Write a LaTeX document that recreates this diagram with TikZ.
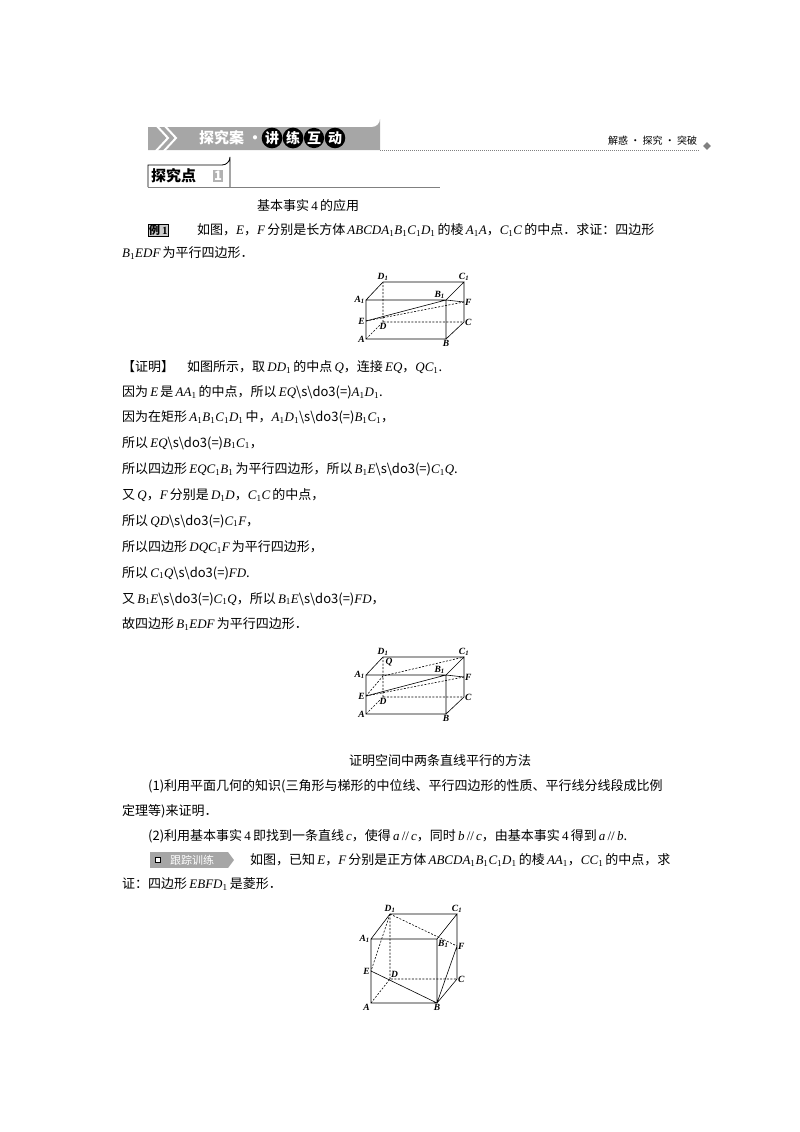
\documentclass[tikz,border=0pt]{standalone}
\usepackage{fontspec}
\usetikzlibrary{shapes.geometric}
\setmainfont{Noto Sans CJK SC}
\newfontfamily\lat{Liberation Serif}
\newcommand\I[1]{{\lat\itshape #1}}
\newcommand\lo[1]{\textsubscript{\lat #1}}
\newcommand\eqs{\textbackslash s\textbackslash do3(=)}
\begin{document}
\begin{tikzpicture}[x=1pt,y=-1pt,
  txt/.style={anchor=west,inner sep=0pt,font=\fontsize{13}{15}\selectfont},
  lab/.style={inner sep=1pt,font=\lat\itshape\bfseries\fontsize{9.5}{10}\selectfont},
  edge/.style={line width=0.6pt},
  hid/.style={line width=0.6pt,dashed,dash pattern=on 2pt off 1.5pt}]
\useasboundingbox (0,0) rectangle (800,1132);
% header
\fill[gray!70] (148,127) -- (372,127) arc[start angle=90,end angle=0,radius=8] -- (380,150) -- (148,150) -- cycle;
\draw[white,line width=2pt] (155,124) -- (168,138) -- (155,152) (163,124) -- (176,138) -- (163,152);
\node[txt,white,font=\bfseries\fontsize{15}{16}\selectfont] (h1) at (199,138) {探究案 ·};
\foreach \c [count=\i] in {讲,练,互,动}{
  \node[circle,fill=black,text=white,inner sep=0.5pt,font=\bfseries\fontsize{14}{15}\selectfont] (hc\i) at (251+\i*21,138) {\c};}
\draw[gray,densely dotted,line width=1pt] (380,150) -- (700,150);
\node[txt,font=\fontsize{10}{11}\selectfont] (h2) at (608,141) {解惑 · 探究 · 突破};
\node[diamond,fill=gray,inner sep=2pt] (hd) at (707,146) {};
% tanjiudian
\draw[line width=0.8pt] (148,187) -- (148,165) -- (222,165) arc[start angle=90,end angle=0,radius=8] -- (230,187);
\draw[gray,line width=0.8pt] (148,187) -- (440,187);
\node[txt,font=\bfseries\fontsize{15}{16}\selectfont] (t1) at (151,176) {探究点};
\node[fill=gray!60,text=white,inner sep=1.5pt,font=\bfseries\itshape\fontsize{13}{14}\selectfont] (t2) at (218,176) {1};
% text
\node[txt] (l0) at (257,206) {基本事实\,{\lat 4}\,的应用};
\node[draw,fill=gray!40,inner sep=1pt,font=\bfseries\fontsize{11}{12}\selectfont,anchor=west] (ex) at (148,230) {例\,{\lat 1}};
\node[txt] (l1) at (197,230) {如图，\I{E}，\I{F}\,分别是长方体\,\I{ABCDA}\lo{1}\I{B}\lo{1}\I{C}\lo{1}\I{D}\lo{1}\,的棱\,\I{A}\lo{1}\I{A}，\I{C}\lo{1}\I{C}\,的中点．求证：四边形};
\node[txt] (l2) at (122,253) {\I{B}\lo{1}\I{EDF}\,为平行四边形．};
\node[txt] (p0) at (122,367) {【证明】\quad 如图所示，取\,\I{DD}\lo{1}\,的中点\,\I{Q}，连接\,\I{EQ}，\I{QC}\lo{1}.};
\node[txt] (p1) at (122,392) {因为\,\I{E}\,是\,\I{AA}\lo{1}\,的中点，所以\,\I{EQ}\eqs\I{A}\lo{1}\I{D}\lo{1}.};
\node[txt] (p2) at (122,417) {因为在矩形\,\I{A}\lo{1}\I{B}\lo{1}\I{C}\lo{1}\I{D}\lo{1}\,中，\I{A}\lo{1}\I{D}\lo{1}\eqs\I{B}\lo{1}\I{C}\lo{1}，};
\node[txt] (p3) at (122,443) {所以\,\I{EQ}\eqs\I{B}\lo{1}\I{C}\lo{1}，};
\node[txt] (p4) at (122,469) {所以四边形\,\I{EQC}\lo{1}\I{B}\lo{1}\,为平行四边形，所以\,\I{B}\lo{1}\I{E}\eqs\I{C}\lo{1}\I{Q}.};
\node[txt] (p5) at (122,495) {又\,\I{Q}，\I{F}\,分别是\,\I{D}\lo{1}\I{D}，\I{C}\lo{1}\I{C}\,的中点，};
\node[txt] (p6) at (122,521) {所以\,\I{QD}\eqs\I{C}\lo{1}\I{F}，};
\node[txt] (p7) at (122,547) {所以四边形\,\I{DQC}\lo{1}\I{F}\,为平行四边形，};
\node[txt] (p8) at (122,573) {所以\,\I{C}\lo{1}\I{Q}\eqs\I{FD}.};
\node[txt] (p9) at (122,599) {又\,\I{B}\lo{1}\I{E}\eqs\I{C}\lo{1}\I{Q}，所以\,\I{B}\lo{1}\I{E}\eqs\I{FD}，};
\node[txt] (p10) at (122,624) {故四边形\,\I{B}\lo{1}\I{EDF}\,为平行四边形．};
\node[txt,anchor=center] (m0) at (440,761) {证明空间中两条直线平行的方法};
\node[txt] (m1) at (148,786) {(1)利用平面几何的知识(三角形与梯形的中位线、平行四边形的性质、平行线分线段成比例};
\node[txt] (m2) at (122,811) {定理等)来证明．};
\node[txt] (m3) at (148,836) {(2)利用基本事实\,{\lat 4}\,即找到一条直线\,\I{c}，使得\,\I{a}\,{\lat //}\,\I{c}，同时\,\I{b}\,{\lat //}\,\I{c}，由基本事实\,{\lat 4}\,得到\,\I{a}\,{\lat //}\,\I{b}.};
\fill[gray!70] (150,852) rectangle (228,868);
\fill[gray!70] (228,852) -- (234,860) -- (228,868) -- cycle;
\node[draw,fill=white,inner sep=2.5pt] (ic) at (158,860) {};
\node[txt,white,font=\fontsize{11}{12}\selectfont] (g0) at (170,860) {跟踪训练};
\node[txt] (g1) at (250,860) {如图，已知\,\I{E}，\I{F}\,分别是正方体\,\I{ABCDA}\lo{1}\I{B}\lo{1}\I{C}\lo{1}\I{D}\lo{1}\,的棱\,\I{AA}\lo{1}，\I{CC}\lo{1}\,的中点，求};
\node[txt] (g2) at (122,884) {证：四边形\,\I{EBFD}\lo{1}\,是菱形．};
% figure 1
\begin{scope}
\coordinate (A) at (366,339); \coordinate (B) at (446,339);
\coordinate (A1) at (366,300); \coordinate (B1) at (446,300);
\coordinate (D) at (383,322); \coordinate (C) at (464,322);
\coordinate (D1) at (383,282); \coordinate (C1) at (464,282);
\coordinate (E) at (366,321); \coordinate (F) at (464,302);
\draw[edge] (A)--(B)--(B1)--(A1)--cycle (A1)--(D1)--(C1)--(B1) (C1)--(C)--(B) (E)--(B1)--(F);
\draw[hid] (A)--(D)--(C) (D)--(D1) (E)--(F);
\node[lab,left] at (A) {A}; \node[lab,below] at (B) {B};
\node[lab,left] at (A1) {A\lo{1}}; \node[lab,above left] at (B1) {B\lo{1}};
\node[lab,below] at (D) {D}; \node[lab,right] at (C) {C};
\node[lab,above] at (D1) {D\lo{1}}; \node[lab,above] at (C1) {C\lo{1}};
\node[lab,left] at (E) {E}; \node[lab,right] at (F) {F};
\end{scope}
% figure 2
\begin{scope}
\coordinate (A) at (366,714); \coordinate (B) at (446,714);
\coordinate (A1) at (366,675); \coordinate (B1) at (446,675);
\coordinate (D) at (383,697); \coordinate (C) at (464,697);
\coordinate (D1) at (383,657); \coordinate (C1) at (464,657);
\coordinate (E) at (366,696); \coordinate (F) at (464,677);
\coordinate (Q) at (383,676);
\draw[edge] (A)--(B)--(B1)--(A1)--cycle (A1)--(D1)--(C1)--(B1) (C1)--(C)--(B) (E)--(B1)--(F);
\draw[hid] (A)--(D)--(C) (D)--(D1) (E)--(F) (E)--(Q)--(C1);
\node[lab,left] at (A) {A}; \node[lab,below] at (B) {B};
\node[lab,left] at (A1) {A\lo{1}}; \node[lab,above left] at (B1) {B\lo{1}};
\node[lab,below] at (D) {D}; \node[lab,right] at (C) {C};
\node[lab,above] at (D1) {D\lo{1}}; \node[lab,above] at (C1) {C\lo{1}};
\node[lab,left] at (E) {E}; \node[lab,right] at (F) {F};
\node[lab] at (389,662) {Q};
\end{scope}
% figure 3
\begin{scope}
\coordinate (A) at (371,1003); \coordinate (B) at (437,1003);
\coordinate (A1) at (371,939); \coordinate (B1) at (437,939);
\coordinate (D) at (390,979); \coordinate (C) at (457,979);
\coordinate (D1) at (390,914); \coordinate (C1) at (457,914);
\coordinate (E) at (371,971); \coordinate (F) at (457,946);
\draw[edge] (A)--(B)--(B1)--(A1)--cycle (A1)--(D1)--(C1)--(B1) (C1)--(C)--(B) (E)--(B)--(F);
\draw[hid] (A)--(D)--(C) (D)--(D1) (D1)--(E) (D1)--(F);
\node[lab,below left] at (A) {A}; \node[lab,below] at (B) {B};
\node[lab,left] at (A1) {A\lo{1}}; \node[lab,below right] at (B1) {B\lo{1}};
\node[lab,above right] at (D) {D}; \node[lab,right] at (C) {C};
\node[lab,above] at (D1) {D\lo{1}}; \node[lab,above] at (C1) {C\lo{1}};
\node[lab,left] at (E) {E}; \node[lab,right] at (F) {F};
\end{scope}
\end{tikzpicture}
\end{document}
